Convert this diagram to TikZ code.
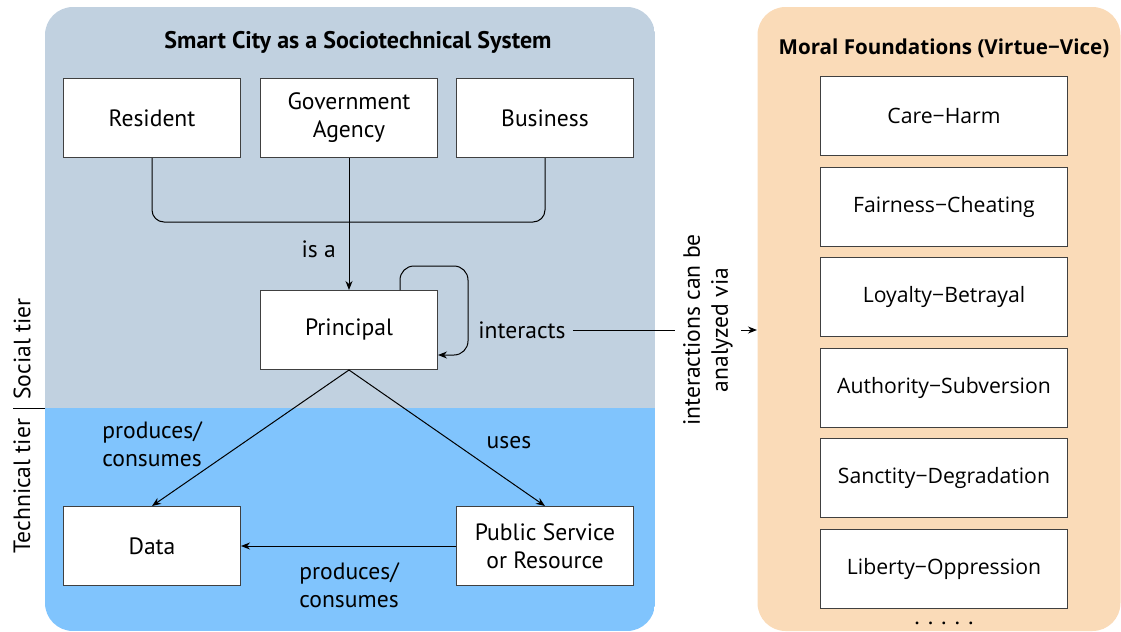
\documentclass[tikz,border=0pt]{standalone}
\usepackage{fontspec}
\setmainfont{PT Sans}
\newfontfamily\moralfont{Open Sans}
\usetikzlibrary{arrows.meta, calc, positioning}
\definecolor{socialbg}{RGB}{193,209,224}
\definecolor{techbg}{RGB}{128,196,253}
\definecolor{moralbg}{RGB}{250,219,184}
\tikzset{> = { Stealth[length = 4.5pt, width = 3.5pt] }}

\begin{document}
\begin{tikzpicture}[x = 0.5pt, y = -0.5pt, line width = 0.5pt, font = \fontsize{11.8}{14}\selectfont,
	box/.style = { draw = black!75, fill = white, minimum width = 88.5pt, minimum height = 39.5pt, align = center, inner sep = 2pt },
	moralbox/.style = { box, minimum width = 123.5pt, font = \moralfont\fontsize{10.6}{12}\selectfont }]
		\useasboundingbox (0,0) rectangle (1121,632);

		% the two panels, the left one split in two tiers
		\begin{scope}
			\clip [rounded corners = 14pt] (45,7) rectangle (655,631);
			\fill [socialbg] (45,7) rectangle (655,408);
			\fill [techbg] (45,408) rectangle (655,631);
		\end{scope}
		\node [fill = moralbg, rounded corners = 14pt, minimum width = 181.5pt, minimum height = 312pt] (moral) at (939,319) {};

		\node [font = \bfseries\fontsize{12}{14}\selectfont] (citytitle) at (358,42) {Smart City as a Sociotechnical System};
		\node [font = \moralfont\bfseries\fontsize{10.3}{12}\selectfont] (moraltitle) at (944,48) {Moral Foundations (Virtue−Vice)};

		\node [box] (resident) at (152,118) {Resident};
		\node [box] (agency)   at (349,118) {Government\\Agency};
		\node [box] (business) at (545,118) {Business};
		\node [box] (principal) at (349,330) {Principal};
		\node [box] (data)     at (152,546) {Data};
		\node [box] (service)  at (545,546) {Public Service\\or Resource};

		\node [moralbox]                           (care)      at (944,116) {Care−Harm};
		\node [moralbox, below = 5.3pt of care]      (fairness)  {Fairness−Cheating};
		\node [moralbox, below = 5.3pt of fairness]  (loyalty)   {Loyalty−Betrayal};
		\node [moralbox, below = 5.3pt of loyalty]   (authority) {Authority−Subversion};
		\node [moralbox, below = 5.3pt of authority] (sanctity)  {Sanctity−Degradation};
		\node [moralbox, below = 5.3pt of sanctity]  (liberty)   {Liberty−Oppression};
		\node [below = 3pt of liberty] (dots) {. . . . .};

		\node [rotate = 90] (socialtier)    at (22,349) {Social tier};
		\node [rotate = 90] (technicaltier) at (22,486) {Technical tier};
		\coordinate (tiersplit) at (13,408);
		\draw (tiersplit) -- ++(32,0);

		% principals
		\coordinate (join) at (349,222);
		\draw [rounded corners = 6pt] (resident.south) |- (join) -| (business.south);
		\draw [->] (agency) -- node[pos = 0.69, left = 3pt]{is a} (principal);
		\draw [->, rounded corners = 7pt] ([xshift = -19pt]principal.north east) |- ([xshift = 15pt, yshift = 12pt]principal.north east) |- ([yshift = -12.5pt]principal.east);

		% interactions
		\node (interacts) at (522,330) {interacts};
		\node [rotate = 90, align = center, inner sep = 4pt] (analyzed) at (708,330) {interactions can be\\analyzed via};
		\draw (interacts) -- (analyzed);
		\draw [->] (analyzed) -- (analyzed -| moral.west);

		% technical tier
		\draw [->] (principal.south) -- (data.north);
		\draw [->] (principal.south) -- (service.north);
		\draw [->] (service) -- (data);
		\node [align = center] (producesup)  at (152,444) {produces/\\consumes};
		\node (uses) at (509,443) {uses};
		\node [align = center] (producesdown) at (349,585) {produces/\\consumes};
	\end{tikzpicture}
\end{document}
